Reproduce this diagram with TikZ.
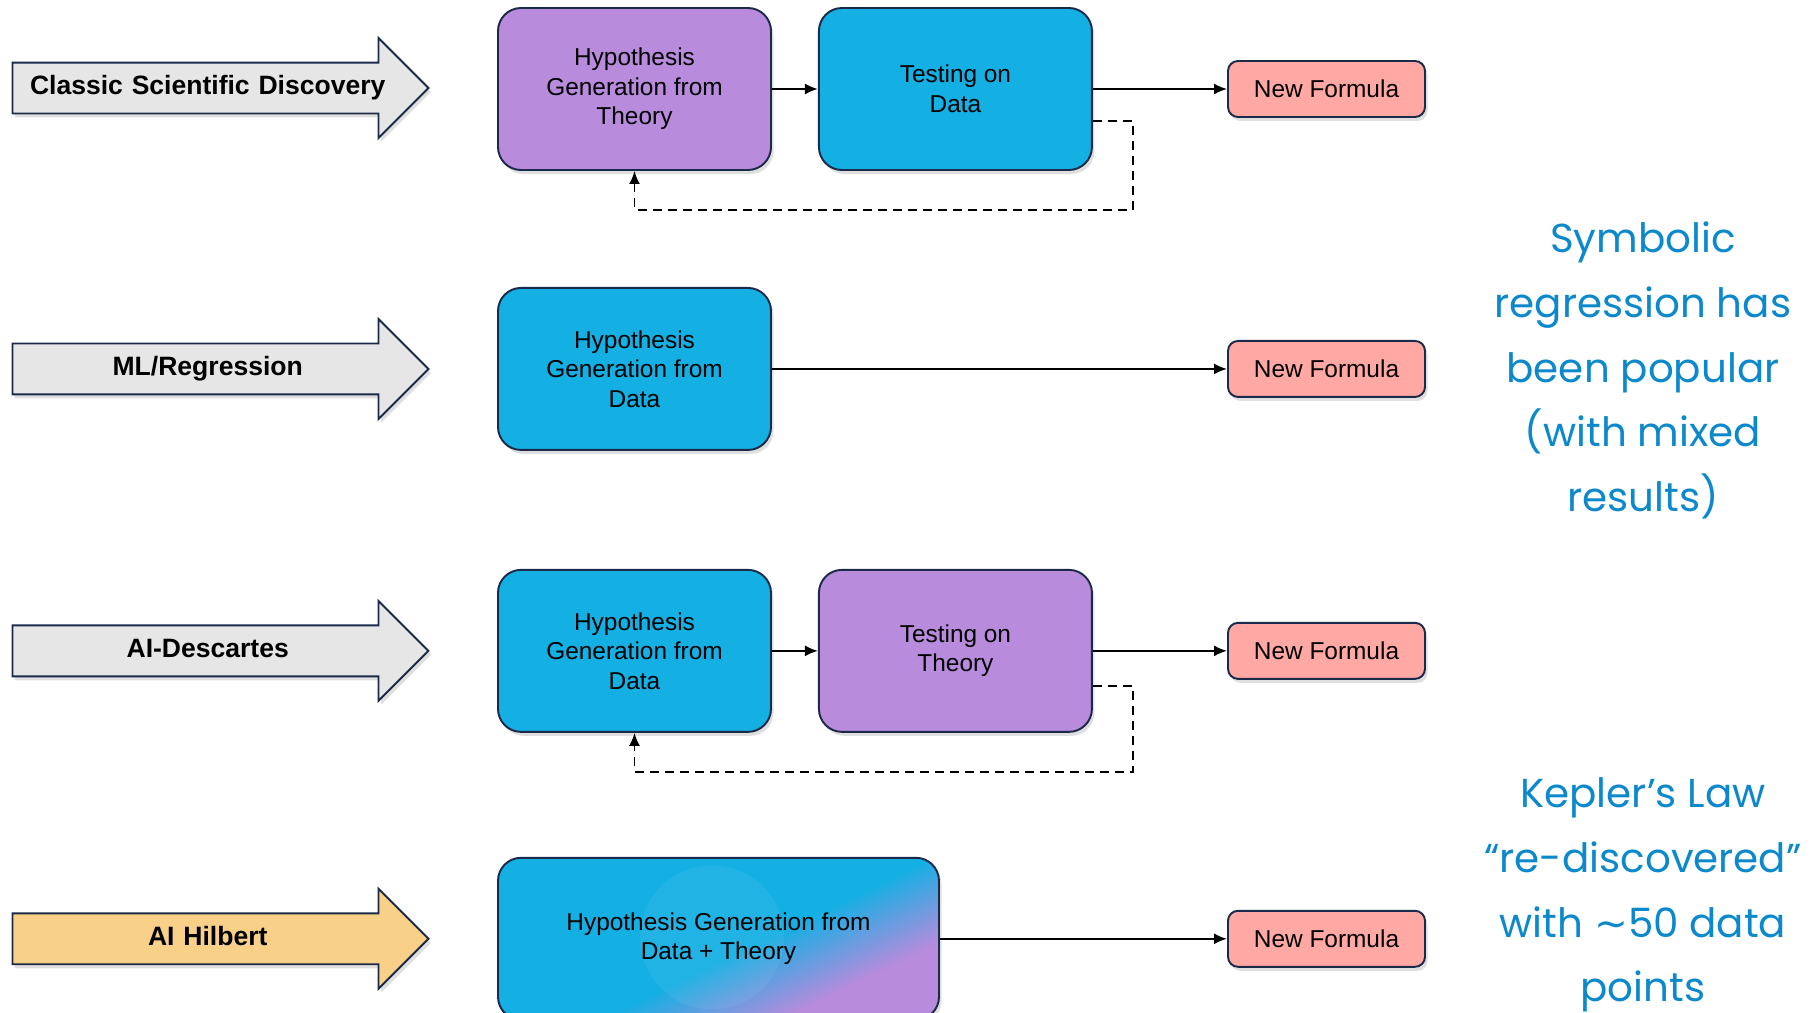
\documentclass[tikz,border=0pt]{standalone}
\usepackage{fontspec}
\setmainfont{Liberation Sans}
\newfontfamily\notefont{Poppins}
\newfontfamily\tildefont{DejaVu Sans}
\usetikzlibrary{shapes.arrows, arrows.meta, positioning, shadows, calc}

\definecolor{hpurple}{RGB}{184,139,220}
\definecolor{hblue}{RGB}{20,175,227}
\definecolor{edgenavy}{RGB}{28,42,74}
\definecolor{fpink}{RGB}{255,168,164}
\definecolor{agray}{RGB}{230,230,230}
\definecolor{agold}{RGB}{248,208,135}
\definecolor{notecol}{RGB}{12,136,204}

\pgfdeclarehorizontalshading{datatheory}{100bp}{color(0bp)=(hblue); color(54bp)=(hblue); color(70bp)=(hpurple); color(100bp)=(hpurple)}

\begin{document}
\begin{tikzpicture}[
    node distance=0.92cm,
    softshadow/.style={drop shadow={shadow xshift=0.05cm, shadow yshift=-0.08cm, opacity=0.25}},
    hbox/.style={rectangle, draw=edgenavy, line width=1.1pt, rounded corners=0.46cm, minimum width=5.46cm, minimum height=3.24cm, align=center, font=\fontsize{13.9}{16.8}\selectfont, softshadow},
    bluebox/.style={hbox, fill=hblue},
    purplebox/.style={hbox, fill=hpurple},
    formula/.style={rectangle, draw=edgenavy, line width=1.1pt, fill=fpink, rounded corners=0.2cm, minimum width=3.94cm, minimum height=1.12cm, font=\fontsize{13.9}{16.8}\selectfont, softshadow},
    rowarrow/.style={single arrow, draw=edgenavy, line width=1.1pt, single arrow head extend=0.49cm, minimum height=8.32cm, text width=7.4cm, align=center, inner xsep=0pt, text height=0.36cm, text depth=0.1cm, inner ysep=0.26cm, anchor=west, font=\fontsize{15.1}{18}\selectfont\bfseries, softshadow},
    note/.style={align=center, text=notecol, font=\notefont\fontsize{23}{36.8}\selectfont},
    flow/.style={-{Latex[length=0.26cm, width=0.22cm]}, line width=1.1pt},
    feedback/.style={flow, dash pattern=on 0.18cm off 0.12cm}
]
    \useasboundingbox (0,0) rectangle (36.24,-20.26);

    % row 1
    \node[purplebox] (h1) at (12.69,-1.78) {Hypothesis\\Generation from\\Theory};
    \node[bluebox, right=of h1] (t1) {Testing on\\Data};
    \node[formula] (f1) at (26.53,-1.78) {New Formula};
    \node[rowarrow, fill=agray] (r1) at (0.23,-1.76) {Classic Scientific Discovery};

    % row 2
    \node[bluebox, below=2.32cm of h1] (h2) {Hypothesis\\Generation from\\Data};
    \node[formula] (f2) at (f1 |- h2) {New Formula};
    \node[rowarrow, fill=agray] (r2) at (0.23,0 |- h2) {ML/Regression};

    % row 3
    \node[bluebox, below=2.36cm of h2] (h3) {Hypothesis\\Generation from\\Data};
    \node[purplebox, right=of h3] (t3) {Testing on\\Theory};
    \node[formula] (f3) at (f1 |- h3) {New Formula};
    \node[rowarrow, fill=agray] (r3) at (0.23,0 |- h3) {AI-Descartes};

    % row 4
    \node[hbox, anchor=north west, minimum width=8.82cm, shading=datatheory, shading angle=-64,
        path picture={\fill[white, opacity=0.06] ($(path picture bounding box.center)+(-0.13,0.03)$) circle (1.44);}]
        (h4) at ($(h3.south west)+(0,-2.48)$) {Hypothesis Generation from\\Data + Theory};
    \node[formula] (f4) at (f1 |- h4) {New Formula};
    \node[rowarrow, fill=agold] (r4) at (0.23,0 |- h4) {AI Hilbert};

    \draw[flow] (h1) -- (t1);
    \draw[flow] (t1) -- (f1);
    \draw[flow] (h2) -- (f2);
    \draw[flow] (h3) -- (t3);
    \draw[flow] (t3) -- (f3);
    \draw[flow] (h4) -- (f4);

    % feedback loops
    \coordinate (c1) at ($(t1.east)+(0.8,-2.42)$);
    \coordinate (c3) at ($(t3.east)+(0.8,-2.42)$);
    \draw[feedback] ($(t1.east)+(0,-0.64)$) -| (c1) -| (h1.south);
    \draw[feedback] ($(t3.east)+(0,-0.7)$) -| (c3) -| (h3.south);

    % side notes
    \node[note] (sym) at (32.86,-7.41) {Symbolic\\regression has\\been popular\\(with mixed\\results)};
    \node[note] (kep) at (32.86,-17.9) {Kepler’s Law\\“re-discovered”\\with {\tildefont ∼}50 data\\points};
\end{tikzpicture}
\end{document}
